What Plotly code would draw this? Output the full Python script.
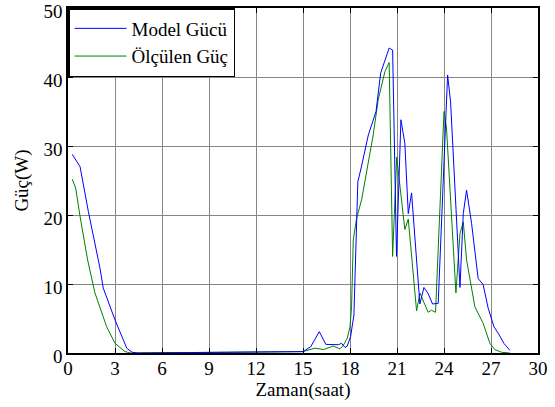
import plotly.graph_objects as go

# Model Gücü (blue)
model_t = [0.27, 0.77, 1.3, 2.04, 2.25, 3.0, 3.75, 4.1, 4.5, 15.0, 15.49, 16.04,
           16.46, 17.25, 17.46, 17.68, 17.82, 18.04, 18.25, 18.4, 18.5, 18.74,
           19.17, 19.66, 19.96, 20.5, 20.72, 20.97, 21.25, 21.5, 21.72, 21.93,
           22.46, 22.72, 22.99, 23.27, 23.63, 24.23, 24.42, 25.02, 25.23, 25.44,
           25.76, 26.18, 26.5, 26.82, 27.19, 27.53, 27.82, 28.2]
model_p = [28.8, 27.0, 20.5, 12.3, 9.4, 4.8, 0.7, 0.1, 0.0, 0.2, 0.9, 3.1,
           1.25, 1.2, 1.4, 0.8, 1.0, 2.4, 5.5, 17.8, 24.8, 27.1,
           31.6, 35.0, 40.6, 44.2, 43.9, 14.0, 33.8, 30.4, 20.2, 23.2,
           7.1, 9.5, 8.6, 7.1, 7.2, 40.3, 36.4, 9.5, 20.2, 23.6,
           18.8, 10.8, 9.9, 6.5, 3.8, 2.6, 1.4, 0.4]

# Ölçülen Güç (green)
meas_t = [0.27, 0.49, 0.77, 1.25, 1.72, 2.47, 3.0, 3.64, 4.0, 15.0, 15.76, 16.3,
          16.93, 17.36, 17.57, 17.82, 18.0, 18.1, 18.21, 18.42, 18.74, 19.48,
          19.8, 20.23, 20.5, 20.72, 20.98, 21.5, 21.72, 22.25, 22.46, 22.99,
          23.2, 23.46, 24.0, 24.16, 24.76, 25.02, 25.23, 25.44, 25.97, 26.5,
          26.93, 27.25, 27.68, 28.2]
meas_p = [25.2, 23.9, 19.8, 13.5, 8.7, 3.8, 1.4, 0.2, 0.0, 0.2, 0.7, 0.5,
          1.0, 0.6, 1.1, 2.1, 3.8, 6.7, 16.4, 19.5, 22.2, 31.6,
          36.7, 40.8, 42.1, 14.0, 28.4, 17.9, 19.4, 6.1, 8.7, 5.9,
          6.2, 5.9, 35.0, 32.6, 8.7, 17.3, 19.0, 13.5, 6.7, 4.3,
          1.4, 0.5, 0.1, 0.0]

x_ticks = [0, 3, 6, 9, 12, 15, 18, 21, 24, 27, 30]
y_ticks = [0, 10, 20, 30, 40, 50]

FONT = "Liberation Serif, Times New Roman, serif"

fig = go.Figure()
fig.add_trace(go.Scatter(x=meas_t, y=meas_p, mode="lines", name="Ölçülen Güç",
                         line=dict(color="#008000", width=1)))
fig.add_trace(go.Scatter(x=model_t, y=model_p, mode="lines", name="Model Gücü",
                         line=dict(color="#0000FF", width=1)))

axis_common = dict(showline=True, linecolor="black", linewidth=1.5, mirror="allticks",
                   ticks="inside", ticklen=5, tickcolor="black", showgrid=True,
                   gridcolor="#858585", gridwidth=1, zeroline=False,
                   ticklabeloverflow="allow",
                   tickfont=dict(family=FONT, size=19, color="black"))

fig.update_xaxes(range=[0, 30], tickvals=x_ticks, ticklabelstandoff=-3,
                 title=dict(text="Zaman(saat)", font=dict(family=FONT, size=19, color="black"),
                            standoff=4),
                 **axis_common)
fig.update_yaxes(range=[0, 50], tickvals=y_ticks, ticklabelshift=3,
                 title=dict(text="Güç(W)", font=dict(family=FONT, size=19, color="black"),
                            standoff=10),
                 **axis_common)

fig.update_layout(
    width=555, height=407,
    margin=dict(l=68, r=17, t=8, b=54, autoexpand=False),
    paper_bgcolor="white", plot_bgcolor="white",
    font=dict(family=FONT, size=19, color="black"),
    legend=dict(x=0, y=1, xanchor="left", yanchor="top", bgcolor="white",
                bordercolor="black", borderwidth=1.5, traceorder="reversed",
                font=dict(family=FONT, size=19, color="black"),
                tracegroupgap=0, itemwidth=52),
    showlegend=True,
)

fig.write_html("out.html", config={"displayModeBar": False},
               post_script="document.body.style.margin='0';document.body.style.padding='0';")
